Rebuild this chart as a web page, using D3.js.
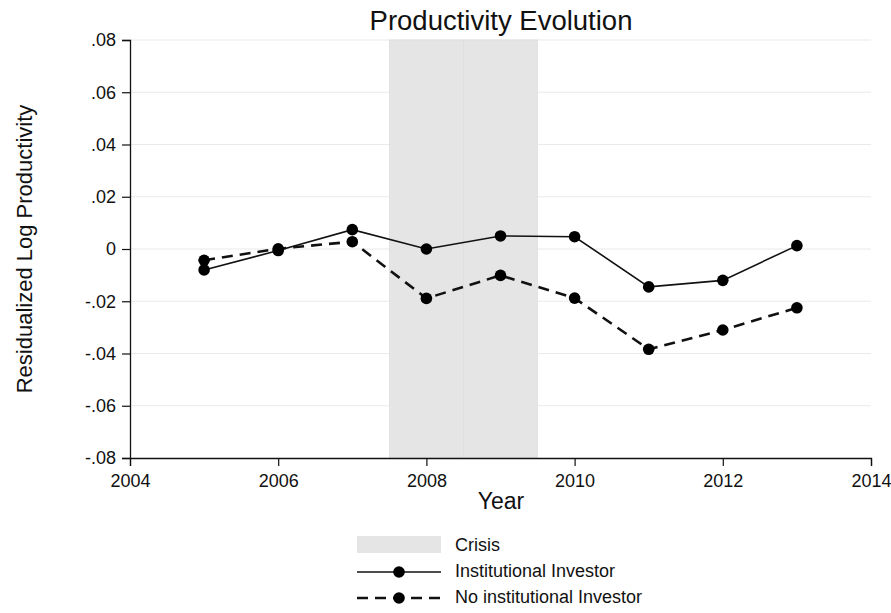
<!DOCTYPE html>
<html>
<head>
<meta charset="utf-8">
<script src="https://cdn.jsdelivr.net/npm/d3@7"></script>
<style>
  body { margin: 0; background: #fff; }
  text { font-family: "Liberation Sans", Arial, sans-serif; fill: #111; }
</style>
</head>
<body>
<svg id="chart" width="891" height="613"></svg>
<script>
// Productivity series by year
const years = [2005, 2006, 2007, 2008, 2009, 2010, 2011, 2012, 2013];
const institutional = [-0.0080, -0.0006, 0.0074, 0.0000, 0.0050, 0.0047, -0.0145, -0.0120, 0.0013];
const noInstitutional = [-0.0043, 0.0001, 0.0028, -0.0189, -0.0101, -0.0188, -0.0384, -0.0310, -0.0225];
// Crisis years shaded as unit-width bars
const crisisYears = [2008, 2009];
const xTicks = [2004, 2006, 2008, 2010, 2012, 2014];
const yTicks = [-0.08, -0.06, -0.04, -0.02, 0, 0.02, 0.04, 0.06, 0.08];
const yTickLabels = ["-.08", "-.06", "-.04", "-.02", "0", ".02", ".04", ".06", ".08"];

const svg = d3.select("#chart");
const plotLeft = 130, plotRight = 871, plotTop = 40, plotBottom = 458;
const fontFamily = "Liberation Sans, Arial, sans-serif";

const x = d3.scaleLinear().domain([2004, 2014]).range([plotLeft, plotRight]);
const y = d3.scaleLinear().domain([-0.08, 0.08]).range([plotBottom, plotTop]);

// grid
svg.append("g").selectAll("line").data(yTicks.filter(d => d !== -0.08)).join("line")
  .attr("x1", plotLeft).attr("x2", plotRight)
  .attr("y1", d => y(d)).attr("y2", d => y(d))
  .attr("stroke", "#eaeaea").attr("stroke-width", 1.2);

// crisis shading
svg.append("g").selectAll("rect").data(crisisYears).join("rect")
  .attr("x", d => x(d - 0.5)).attr("width", d => x(d + 0.5) - x(d - 0.5))
  .attr("y", y(0.08)).attr("height", y(-0.08) - y(0.08))
  .attr("fill", "#e5e5e5").attr("stroke", "#dedede").attr("stroke-width", 0.8);

// axes
const yAxis = d3.axisLeft(y).tickValues(yTicks)
  .tickFormat((d, i) => yTickLabels[i]).tickSize(8).tickPadding(6);
const gy = svg.append("g").attr("transform", `translate(${plotLeft},0)`).call(yAxis);
gy.select(".domain").attr("stroke", "#111").attr("stroke-width", 1.3);
gy.selectAll(".tick line").attr("stroke", "#111").attr("stroke-width", 1.2);
gy.selectAll(".tick text").style("font-size", "18px").style("font-family", fontFamily).attr("fill", "#111");

const xAxis = d3.axisBottom(x).tickValues(xTicks).tickFormat(d3.format("d")).tickSize(8).tickPadding(8);
const gx = svg.append("g").attr("transform", `translate(0,${plotBottom})`).call(xAxis);
gx.select(".domain").attr("stroke", "#111").attr("stroke-width", 1.3);
gx.selectAll(".tick line").attr("stroke", "#111").attr("stroke-width", 1.2);
gx.selectAll(".tick text").style("font-size", "18px").style("font-family", fontFamily).attr("fill", "#111");

// lines and markers
const line = d3.line().x((d, i) => x(years[i])).y(d => y(d));
svg.append("path").datum(noInstitutional).attr("d", line)
  .attr("fill", "none").attr("stroke", "#111").attr("stroke-width", 2.6)
  .attr("stroke-dasharray", "11,7");
svg.append("path").datum(institutional).attr("d", line)
  .attr("fill", "none").attr("stroke", "#111").attr("stroke-width", 1.6);

[noInstitutional, institutional].forEach(series => {
  svg.append("g").selectAll("circle").data(series).join("circle")
    .attr("cx", (d, i) => x(years[i])).attr("cy", d => y(d)).attr("r", 5.8)
    .attr("fill", "#000");
});

// titles
svg.append("text").attr("x", 501).attr("y", 30).attr("text-anchor", "middle")
  .style("font-size", "27.5px").text("Productivity Evolution");
svg.append("text").attr("x", 501).attr("y", 509).attr("text-anchor", "middle")
  .style("font-size", "23px").text("Year");
svg.append("text").attr("transform", `translate(32,${(plotTop + plotBottom) / 2}) rotate(-90)`)
  .attr("text-anchor", "middle").style("font-size", "22px").text("Residualized Log Productivity");

// legend
const lg = svg.append("g");
const lx0 = 357, lx1 = 441, tx = 455;
lg.append("rect").attr("x", lx0).attr("y", 536).attr("width", lx1 - lx0).attr("height", 17).attr("fill", "#e5e5e5");
lg.append("text").attr("x", tx).attr("y", 551).style("font-size", "18px").text("Crisis");
lg.append("line").attr("x1", lx0).attr("x2", lx1).attr("y1", 572).attr("y2", 572)
  .attr("stroke", "#111").attr("stroke-width", 1.6);
lg.append("circle").attr("cx", (lx0 + lx1) / 2).attr("cy", 572).attr("r", 5.8).attr("fill", "#000");
lg.append("text").attr("x", tx).attr("y", 577).style("font-size", "18px").text("Institutional Investor");
lg.append("line").attr("x1", lx0).attr("x2", lx1).attr("y1", 598).attr("y2", 598)
  .attr("stroke", "#111").attr("stroke-width", 2.6).attr("stroke-dasharray", "11,7");
lg.append("circle").attr("cx", (lx0 + lx1) / 2).attr("cy", 598).attr("r", 5.8).attr("fill", "#000");
lg.append("text").attr("x", tx).attr("y", 603).style("font-size", "18px").text("No institutional Investor");
</script>
</body>
</html>
